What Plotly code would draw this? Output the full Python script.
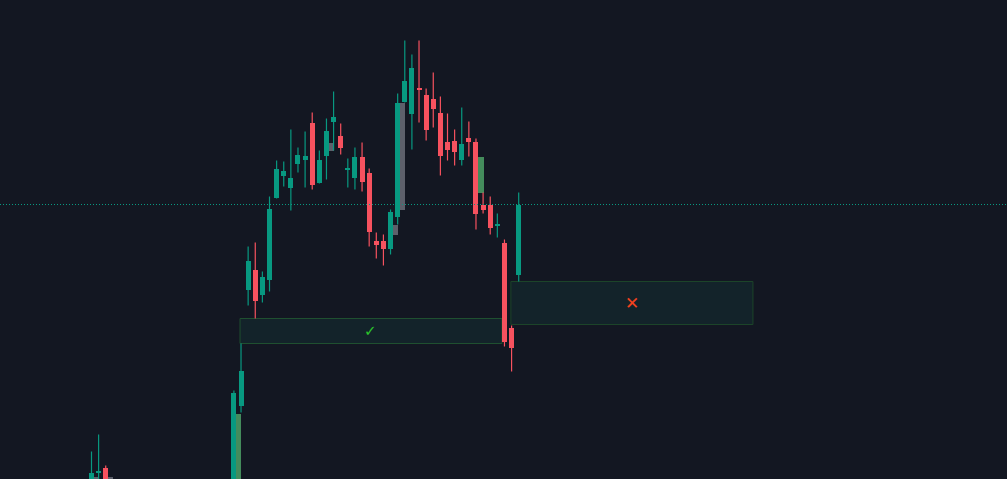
import plotly.graph_objects as go

# ---- candle data (index, open, high, low, close) ----
idx = [0, 1, 2, 20, 21, 22, 23, 24, 25, 26, 27, 28, 29, 30, 31, 32, 33, 34, 35, 36,
       37, 38, 39, 40, 41, 42, 43, 44, 45, 46, 47, 48, 49, 50, 51, 52, 53, 54, 55, 56,
       57, 58, 59, 60]
opens = [101.0, 102.8, 103.3, 100.0, 109.5, 121.1, 123.1, 120.6, 122.1, 130.3, 132.5, 131.3,
         133.7, 134.1, 137.8, 131.8, 134.5, 137.9, 136.5, 133.1, 132.3, 134.4, 132.8, 126.0,
         126.0, 125.2, 128.4, 139.9, 138.7, 141.2, 140.6, 140.2, 138.8, 135.9, 136.0, 134.1,
         136.3, 135.9, 129.6, 129.6, 127.5, 125.8, 117.3, 122.6]
highs = [104.9, 106.6, 103.5, 111.0, 115.7, 125.4, 125.8, 122.9, 130.4, 134.0, 133.9, 137.1,
         135.3, 136.9, 138.8, 135.0, 138.2, 140.9, 137.7, 134.2, 135.3, 135.8, 133.2, 126.8,
         126.6, 129.1, 140.7, 146.0, 144.6, 146.0, 141.2, 142.8, 140.4, 138.7, 137.1, 139.3,
         137.9, 136.2, 130.8, 130.4, 128.7, 126.1, 117.5, 130.8]
lows = [100.5, 101.0, 100.5, 99.0, 108.8, 119.5, 118.2, 119.8, 120.9, 130.2, 131.4, 129.0,
        132.8, 131.3, 131.1, 131.7, 132.1, 135.0, 134.6, 131.3, 131.1, 130.9, 125.4, 124.2,
        123.5, 124.6, 127.6, 139.8, 135.1, 137.8, 136.0, 137.3, 132.5, 134.0, 133.5, 133.5,
        134.4, 127.1, 128.7, 126.6, 126.3, 115.4, 112.9, 121.9]
closes = [102.8, 103.0, 101.0, 110.8, 113.0, 124.0, 120.0, 122.4, 129.2, 133.2, 133.0, 132.3,
          134.6, 134.5, 131.6, 134.1, 137.0, 138.4, 135.3, 133.3, 134.4, 131.9, 126.9, 125.6,
          125.2, 128.9, 139.8, 142.0, 143.3, 141.1, 137.1, 139.2, 134.5, 135.1, 134.9, 135.7,
          135.9, 128.7, 129.1, 127.3, 127.6, 115.9, 115.3, 129.6]

# ---- offset ghost blocks (index, top, bottom, kind) ----
ghost_idx = [0, 2, 20, 33, 42, 43, 54]
ghost_top = [102.4, 102.4, 108.7, 135.8, 127.6, 139.8, 134.4]
ghost_bot = [100.0, 100.0, 99.0, 135.0, 126.6, 129.1, 130.8]
ghost_kind = ["gray", "gray", "green", "gray", "gray", "gray", "green"]

# ---- zones ----
zone_x0 = [20.86, 58.9]
zone_x1 = [57.65, 92.9]
zone_top = [118.2, 121.9]
zone_bot = [115.7, 117.6]
zone_mark = ["✓", "✕"]

UP = "#089981"
DOWN = "#f7525f"
BG = "#131722"
GHOST = {"gray": "#5d606b", "green": "#448c5c"}

fig = go.Figure()

# ghost blocks behind candles
fig.add_trace(go.Bar(
    x=[i + 0.7 for i in ghost_idx],
    y=[t - b for t, b in zip(ghost_top, ghost_bot)],
    base=ghost_bot,
    width=0.72,
    marker=dict(color=[GHOST[k] for k in ghost_kind], line=dict(width=0)),
    hoverinfo="skip", showlegend=False,
))

# wicks
for col, cond in ((UP, lambda o, c: c >= o), (DOWN, lambda o, c: c < o)):
    wx, wy = [], []
    for i, o, h, l, c in zip(idx, opens, highs, lows, closes):
        if cond(o, c):
            wx += [i, i, None]
            wy += [l, h, None]
    fig.add_trace(go.Scatter(x=wx, y=wy, mode="lines",
                             line=dict(color=col, width=1.2),
                             hoverinfo="skip", showlegend=False))

# bodies
bx, by, bb, bc = [], [], [], []
for i, o, c in zip(idx, opens, closes):
    lo, hi = min(o, c), max(o, c)
    if hi - lo < 0.15:
        hi = lo + 0.15
    bx.append(i)
    by.append(hi - lo)
    bb.append(lo)
    bc.append(UP if c >= o else DOWN)
fig.add_trace(go.Bar(x=bx, y=by, base=bb, width=0.7,
                     marker=dict(color=bc, line=dict(width=0)),
                     hoverinfo="skip", showlegend=False))

shapes = []
annotations = []
zone_line = ["#1f5030", "#1c4429"]
mark_col = ["#2bc42a", "#f2421e"]
mark_size = [15, 17]
for k in range(len(zone_x0)):
    shapes.append(dict(type="rect", xref="x", yref="y",
                       x0=zone_x0[k], x1=zone_x1[k], y0=zone_bot[k], y1=zone_top[k],
                       fillcolor="#13232a",
                       line=dict(color=zone_line[k], width=1), layer="below"))
    annotations.append(dict(x=(zone_x0[k] + zone_x1[k]) / 2,
                            y=(zone_top[k] + zone_bot[k]) / 2,
                            xref="x", yref="y", text="<b>" + zone_mark[k] + "</b>", showarrow=False,
                            font=dict(size=mark_size[k], color=mark_col[k], family="DejaVu Sans")))

# last price line
shapes.append(dict(type="line", xref="paper", yref="y", x0=0, x1=1,
                   y0=closes[-1], y1=closes[-1],
                   line=dict(color=UP, width=1, dash="1px,2px")))

fig.update_layout(
    width=1007, height=479, autosize=False,
    margin=dict(l=0, r=0, t=0, b=0, pad=0),
    paper_bgcolor=BG, plot_bgcolor=BG,
    barmode="overlay", bargap=0,
    showlegend=False,
    shapes=shapes, annotations=annotations,
    xaxis=dict(range=[-12.85, 128.58], visible=False, showgrid=False, zeroline=False, fixedrange=True),
    yaxis=dict(range=[102.15, 150.05], visible=False, showgrid=False, zeroline=False, fixedrange=True),
)

fig.write_html("out.html", config={"displayModeBar": False},
               post_script="document.body.style.margin='0';document.body.style.overflow='hidden';document.body.style.background='#131722';")
